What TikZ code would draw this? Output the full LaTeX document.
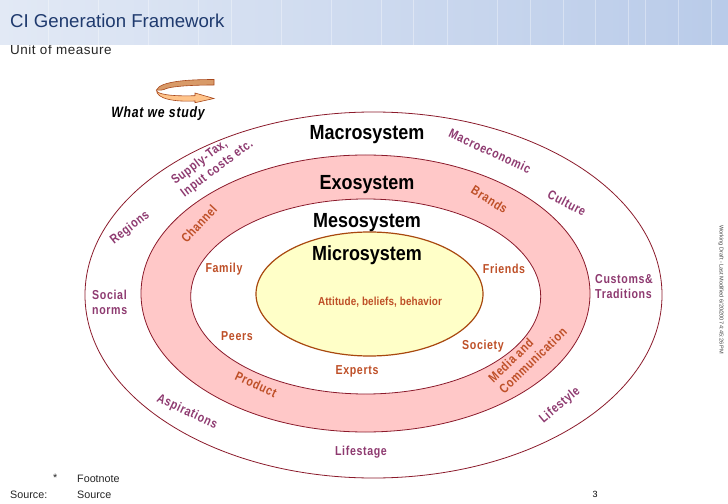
\documentclass[tikz,border=0pt]{standalone}
\usepackage{fontspec}
\setmainfont{Liberation Sans}
\newfontfamily\lab[FakeStretch=0.82,LetterSpace=5]{Liberation Sans}
\newfontfamily\labt[FakeStretch=0.85,LetterSpace=1]{Liberation Sans}
\newfontfamily\hd[FakeStretch=0.88]{Liberation Sans}
\usetikzlibrary{shapes.geometric}
\definecolor{plum}{HTML}{8E3A70}
\definecolor{rust}{HTML}{BE4F27}
\definecolor{ringline}{HTML}{8B1A2B}
\definecolor{microline}{HTML}{A8480F}
\definecolor{navy}{HTML}{1F3A6E}
\definecolor{HdL}{HTML}{E2E9F5}
\definecolor{HdR}{HTML}{B9CBE9}
\definecolor{pinkfill}{HTML}{FFC8C8}
\definecolor{yellowfill}{HTML}{FFFFC8}
\definecolor{bandback}{HTML}{D89A68}
\definecolor{bandfront}{HTML}{FFC48A}
\definecolor{bandline}{HTML}{A8481C}
\tikzset{
 ring/.style={ellipse,draw=ringline,line width=.8pt,inner sep=0pt},
 outerlab/.style={font=\lab\bfseries\fontsize{13}{14.5}\selectfont,text=plum,align=left,inner sep=0pt},
 innerlab/.style={font=\lab\bfseries\fontsize{13}{14.5}\selectfont,text=rust,align=left,inner sep=0pt},
 syslab/.style={font=\hd\bfseries\fontsize{20.5}{22}\selectfont,text=black,inner sep=0pt},
 plain/.style={font=\fontsize{10.8}{12}\selectfont,text=black!85,anchor=west,inner sep=0pt},
}
\begin{document}
\begin{tikzpicture}[x=1bp,y=-1bp]
\useasboundingbox (0,0) rectangle (728,504);
\fill[white] (0,0) rectangle (728,504);
% rings
\node[ring,fill=white,minimum width=577bp,minimum height=366bp] (macro) at (373.5,295) {};
\node[ring,fill=pinkfill,minimum width=449bp,minimum height=277bp] (exo) at (365.5,293.5) {};
\node[ring,fill=white,minimum width=350bp,minimum height=195bp] (meso) at (365.7,296.5) {};
\node[ring,draw=microline,line width=1.2pt,fill=yellowfill,minimum width=227bp,minimum height=124bp] (micro) at (369.5,294) {};
% unit text then header overlapping it
\node[font=\fontsize{13.5}{15}\selectfont\addfontfeature{LetterSpace=4},text=black!85,anchor=west,inner sep=0pt] (unit) at (10,50) {Unit of measure};
\fill[left color=HdL,right color=HdR] (0,0) rectangle (728,45);
\foreach \xx in {48,98,148,198,231,281,331,381,413,447,497,530,563,595,628,645,678,711}
 \draw[white,opacity=.35,line width=.5pt] (\xx,0) -- (\xx,45);
\node[font=\fontsize{18.7}{20}\selectfont,text=navy,anchor=west,inner sep=0pt] (title) at (10,21) {CI Generation Framework};
% arrow
\fill[fill=bandback,draw=bandline,line width=.6pt] (214,79.5) .. controls (190,79.5) and (160,81) .. (156.5,90) .. controls (160,90.5) and (163,90) .. (164,89.5) .. controls (170,86) and (195,85) .. (214,85) -- cycle;
\fill[fill=bandfront,draw=bandline,line width=.6pt] (156.5,90) .. controls (156,94) and (170,96.5) .. (195,95.7) -- (195,93) -- (214,98.5) -- (195,102.7) -- (195,101) .. controls (175,102) and (156,99) .. (156.5,90) -- cycle;
\node[font=\lab\bfseries\itshape\fontsize{15}{16}\selectfont,inner sep=0pt] (study) at (158,114) {What we study};
% system labels
\node[syslab] (n1) at (367,134.5) {Macrosystem};
\node[syslab] (n2) at (367,184.5) {Exosystem};
\node[syslab] (n3) at (367,222.5) {Mesosystem};
\node[syslab] (n4) at (367,255.5) {Microsystem};
\node[innerlab,font=\labt\bfseries\fontsize{11.7}{14}\selectfont] (att) at (380,302) {Attitude, beliefs, behavior};
\node[innerlab] (fam) at (224,269) {Family};
\node[innerlab] (fri) at (504,269) {Friends};
\node[innerlab] (pee) at (237,336) {Peers};
\node[innerlab] (soc) at (483,346) {Society};
\node[innerlab] (exp) at (357,371) {Experts};
\node[innerlab,rotate=47] (cha) at (199,224) {Channel};
\node[innerlab,rotate=-32] (bra) at (489.5,199.5) {Brands};
\node[innerlab,rotate=-25] (pro) at (256,384.5) {Product};
\node[innerlab,rotate=44,font=\lab\bfseries\fontsize{13}{15.5}\selectfont] (med) at (527.5,355) {Media and\\Communication};
\node[outerlab,anchor=west] (sn) at (92,302.5) {Social\\norms};
\node[outerlab,anchor=west] (cu) at (595,286.5) {Customs\&\\Traditions};
\node[outerlab] (lis) at (361,452) {Lifestage};
\node[outerlab,rotate=38] (reg) at (130,228) {Regions};
\node[outerlab,rotate=37,font=\lab\bfseries\fontsize{13}{15.5}\selectfont] (sup) at (212.5,162.5) {Supply-Tax,\\Input costs etc.};
\node[outerlab,rotate=-25] (mac) at (490,151) {Macroeconomic};
\node[outerlab,rotate=-28] (cul) at (567,203) {Culture};
\node[outerlab,rotate=-25] (asp) at (187,412) {Aspirations};
\node[outerlab,rotate=40] (lif) at (560,405.5) {Lifestyle};
% footer
\node[plain] (star) at (53,478) {*};
\node[plain] (fn) at (77,479) {Footnote};
\node[plain] (sl) at (10,495) {Source:};
\node[plain] (sv) at (77,495) {Source};
\node[font=\fontsize{9}{10}\selectfont,inner sep=0pt] (pg) at (595,494) {3};
\node[font=\fontsize{5.6}{6}\selectfont,text=black!75,rotate=-90,inner sep=0pt] (wm) at (721,290) {Working Draft - Last Modified 6/20/2007 4:45:26 PM};
\end{tikzpicture}
\end{document}
